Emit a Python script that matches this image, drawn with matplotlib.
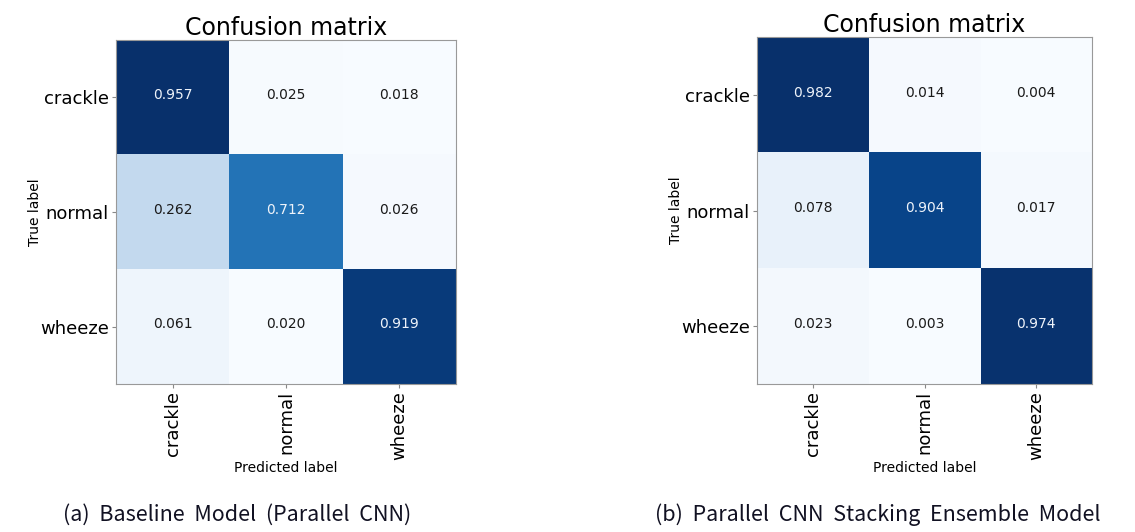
import matplotlib
matplotlib.use("Agg")
import matplotlib.pyplot as plt
import numpy as np

plt.rcParams['font.family'] = ['DejaVu Sans']

classes = ["crackle", "normal", "wheeze"]
cm_baseline = [[0.957, 0.025, 0.018],
               [0.262, 0.712, 0.026],
               [0.061, 0.020, 0.919]]
cm_ensemble = [[0.982, 0.014, 0.004],
               [0.078, 0.904, 0.017],
               [0.023, 0.003, 0.974]]
captions = ["(a)  Baseline  Model  (Parallel  CNN)",
            "(b)  Parallel  CNN  Stacking  Ensemble  Model"]

W, H = 1135, 532
fig = plt.figure(figsize=(W / 100, H / 100), dpi=100)
fig.patch.set_facecolor("white")

boxes = [(116, 40, 340, 344), (757, 37, 335, 347)]
cap_x = [237, 878]

for cm, box, cap, cx in zip([cm_baseline, cm_ensemble], boxes, captions, cap_x):
    x0, y0, w, h = box
    ax = fig.add_axes([x0 / W, 1 - (y0 + h) / H, w / W, h / H])
    arr = np.array(cm)
    ax.imshow(arr, cmap="Blues", interpolation="nearest", aspect="auto")
    thresh = arr.max() / 2
    for i in range(arr.shape[0]):
        for j in range(arr.shape[1]):
            v = arr[i, j]
            ax.text(j, i - 0.02, f"{v:.3f}", ha="center", va="center", fontsize=10,
                    color="#eef3fa" if v > thresh else "#1a1a1a")
    ax.set_xticks(range(len(classes)))
    ax.set_yticks(range(len(classes)))
    ax.set_xticklabels(classes, rotation=90, fontsize=13)
    ax.set_yticklabels(classes, fontsize=13)
    ax.tick_params(length=3, color="#888888", pad=2)
    ax.set_title("Confusion matrix", fontsize=17, pad=3)
    ax.set_xlabel("Predicted label", fontsize=10, labelpad=1)
    ax.set_ylabel("True label", fontsize=10, labelpad=-1)
    for s in ax.spines.values():
        s.set_color("#999999")
    fig.text(cx / W, 1 - 515 / H, cap, ha="center", va="center", fontsize=15.5,
             color="#111122", family=["Noto Sans CJK KR", "DejaVu Sans"])

fig.savefig("out.png", dpi=100)
